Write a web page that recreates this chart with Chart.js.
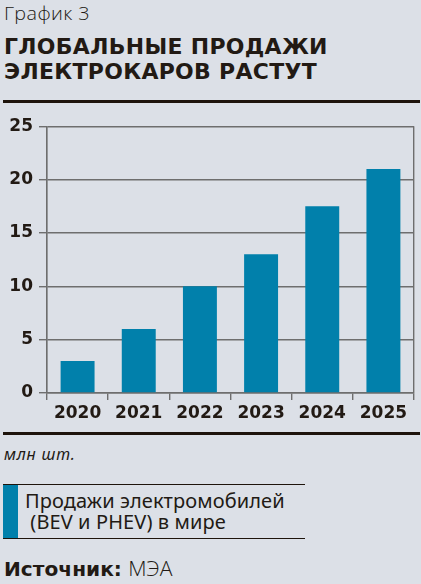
<!DOCTYPE html>
<html>
<head>
<meta charset="utf-8">
<script src="https://cdn.jsdelivr.net/npm/chart.js@4/dist/chart.umd.min.js"></script>
<style>
  html, body { margin: 0; padding: 0; }
  body { width: 421px; height: 584px; background: #dce0e7; position: relative; overflow: hidden; color: #221a14; }
  .abs { position: absolute; white-space: nowrap; }
  #kicker { left: 4px; top: 1px; font: 300 19px "Open Sans", "Noto Sans", sans-serif; line-height: 24px; letter-spacing: 0.4px; transform-origin: 0 0; transform: scaleX(1.04); }
  .title { left: 4px; font: bold 21px "DejaVu Sans", sans-serif; line-height: 24px; transform-origin: 0 0; transform: scaleX(1.045); letter-spacing: 0.3px; }
  #t1 { top: 35px; }
  #t2 { top: 60px; }
  .rule { position: absolute; left: 3px; width: 417px; height: 3px; background: #1e140c; }
  #chartbox { position: absolute; left: 0; top: 110px; width: 421px; height: 320px; }
  #unit { left: 4px; top: 444px; font: italic 16px "Noto Sans", sans-serif; line-height: 20px; letter-spacing: 0.8px; }
  #legend { position: absolute; left: 3px; top: 484px; width: 302px; height: 53px; border-top: 1.5px solid #1e140c; border-bottom: 1.5px solid #1e140c; }
  #legswatch { position: absolute; left: 0; top: 0; width: 15px; height: 100%; background: #0180ab; }
  #legtext { position: absolute; left: 22px; top: 5px; font: 20px "Noto Sans", sans-serif; line-height: 21px; white-space: pre; letter-spacing: 0.1px; }
  #source { left: 4px; top: 558px; font: 19px "DejaVu Sans", sans-serif; line-height: 22px; transform-origin: 0 0; transform: scaleX(1.06); }
  #source b { font-weight: bold; }
  #source span { font-weight: 300; font-family: "Open Sans", "Noto Sans", sans-serif; font-size: 20px; }
</style>
</head>
<body>
<div id="kicker" class="abs">График 3</div>
<div id="t1" class="abs title">ГЛОБАЛЬНЫЕ ПРОДАЖИ</div>
<div id="t2" class="abs title">ЭЛЕКТРОКАРОВ РАСТУТ</div>
<div class="rule" style="top:100px"></div>
<div id="chartbox"><canvas id="c"></canvas></div>
<div class="rule" style="top:432px"></div>
<div id="unit" class="abs">млн шт.</div>
<div id="legend"><div id="legswatch"></div><div id="legtext">Продажи электромобилей
 (BEV и PHEV) в мире</div></div>
<div id="source" class="abs"><b>Источник:</b> <span>МЭА</span></div>
<script>
const years = ["2020", "2021", "2022", "2023", "2024", "2025"];
const sales = [3, 6, 10, 13, 17.5, 21];
const yTicks = [0, 5, 10, 15, 20, 25];

const GRID = "#6e6e6e";
const INK = "#221a14";
const BAR = "#0180ab";

new Chart(document.getElementById("c"), {
  type: "bar",
  data: {
    labels: years,
    datasets: [{ data: sales, backgroundColor: BAR, borderWidth: 0, barPercentage: 0.555, categoryPercentage: 1 }]
  },
  options: {
    responsive: true,
    maintainAspectRatio: false,
    animation: false,
    events: [],
    layout: { padding: { left: 0, right: 7, top: 16, bottom: 0 } },
    plugins: { legend: { display: false }, tooltip: { enabled: false } },
    scales: {
      x: {
        offset: true,
        afterFit: s => { s.height = 37; },
        grid: {
          offset: true,
          drawOnChartArea: true,
          color: ctx => (ctx.type === "tick" && ctx.index > 0) ? "rgba(0,0,0,0)" : GRID,
          tickColor: GRID,
          tickLength: 7,
          lineWidth: 1.4
        },
        border: { display: true, color: GRID, width: 1.4 },
        ticks: { color: INK, padding: 3, maxRotation: 0, autoSkip: false, font: { family: "DejaVu Sans", weight: "bold", size: 17 } }
      },
      y: {
        min: 0,
        max: 25,
        afterFit: s => { s.width = 47; },
        afterBuildTicks: s => { s.ticks = yTicks.map(v => ({ value: v })); },
        grid: { color: GRID, tickColor: GRID, tickLength: 8, lineWidth: 1.4 },
        border: { display: true, color: GRID, width: 1.4 },
        ticks: { color: INK, padding: 6, font: { family: "DejaVu Sans", weight: "bold", size: 17 } }
      }
    }
  }
});
</script>
</body>
</html>
